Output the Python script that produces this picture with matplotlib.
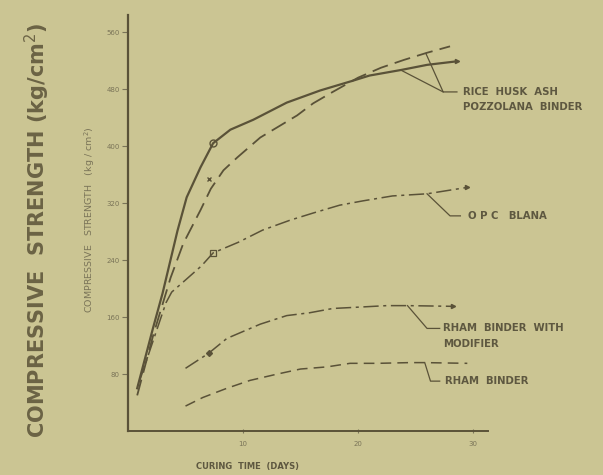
import matplotlib.pyplot as plt

# curing time (days) / compressive strength (kg/cm^2)
rha_solid_days = [0.8, 2.2, 3.0, 4.3, 5.1, 6.3, 7.4, 8.9, 10.9, 13.8, 16.7, 19.6, 21.0, 23.8, 26.0, 28.6]
rha_solid_str = [60, 146, 193, 281, 328, 370, 404, 423, 437, 461, 478, 492, 499, 507, 514, 519]
rha_dash_days = [0.8, 2.2, 3.7, 4.8, 6.3, 7.2, 8.3, 9.5, 11.5, 14.7, 16.1, 17.8, 20.0, 22.0, 24.0, 26.0, 28.0]
rha_dash_str = [50, 135, 215, 263, 310, 340, 366, 384, 412, 443, 460, 476, 496, 510, 521, 531, 540]
opc_days = [1.0, 3.3, 3.8, 5.0, 6.4, 7.4, 9.6, 11.7, 14.1, 16.1, 18.4, 20.4, 23.0, 26.0, 29.5]
opc_str = [70, 180, 195, 212, 232, 250, 265, 282, 296, 306, 317, 323, 330, 333, 342]
mod_days = [5.0, 7.0, 8.6, 11.5, 13.8, 15.8, 17.8, 20.2, 22.5, 24.3, 28.3]
mod_str = [88, 109, 130, 150, 162, 166, 172, 174, 176, 176, 175]
rham_days = [5.0, 6.5, 8.6, 10.6, 13.0, 15.0, 17.3, 19.3, 21.7, 24.5, 25.8, 29.5]
rham_str = [35, 47, 60, 71, 80, 87, 90, 95, 95, 96, 96, 95]

y_ticks = [80, 160, 240, 320, 400, 480, 560]
x_ticks = [10, 20, 30]

BG = '#cbc593'
INK = '#5a5238'
TXT = '#5e5840'

fig = plt.figure(figsize=(6.03, 4.75), dpi=100, facecolor=BG)
ax = fig.add_axes([128/603, 1 - 431/475, 360/603, 416/475])
ax.set_facecolor(BG)
ax.set_xlim(0, 31.3)
ax.set_ylim(0, 584)
for s in ['top', 'right']:
    ax.spines[s].set_visible(False)
ax.spines['left'].set_color(INK)
ax.spines['left'].set_linewidth(1.6)
ax.spines['bottom'].set_color(INK)
ax.spines['bottom'].set_linewidth(1.4)

ax.set_yticks(y_ticks)
ax.set_yticklabels([str(v) for v in y_ticks])
ax.set_xticks(x_ticks)
ax.set_xticklabels([str(v) for v in x_ticks])
ax.tick_params(axis='y', colors='#7a7458', labelsize=5, length=4, width=0.8, pad=2)
ax.tick_params(axis='x', colors='#7a7458', labelsize=5, length=3, width=0.8,
               direction='inout', pad=6)

# curves
ax.plot(rha_solid_days, rha_solid_str, color=INK, lw=1.6, solid_joinstyle='round')
ax.plot(rha_dash_days, rha_dash_str, color=INK, lw=1.3, ls=(0, (9, 4)))
ax.plot(opc_days, opc_str, color=INK, lw=1.1, ls=(0, (10, 3, 2, 3)))
ax.plot(mod_days, mod_str, color=INK, lw=1.1, ls=(0, (10, 3, 2, 3)))
ax.plot(rham_days, rham_str, color=INK, lw=1.1, ls=(0, (7, 4)))

# point markers on the curves
ax.plot(rha_solid_days[6], rha_solid_str[6], marker='o', ms=5, mfc='none', mec=INK, mew=1)
ax.plot(7.0, 354, marker='x', ms=3.5, color=INK, mew=1)
ax.plot(opc_days[5], opc_str[5], marker='s', ms=4, mfc='none', mec=INK, mew=0.9)
ax.plot(mod_days[1], mod_str[1], marker='D', ms=3, color=INK)
ax.plot(rha_solid_days[-1], rha_solid_str[-1], marker='>', ms=3, color=INK)
ax.plot(opc_days[-1], opc_str[-1], marker='>', ms=3, color=INK)
ax.plot(mod_days[-1], mod_str[-1], marker='>', ms=3, color=INK)

# leader lines and labels
lk = dict(color=INK, lw=0.9, clip_on=False)
ax.plot([25.9, 27.4, 28.6], [530, 476, 476], **lk)
ax.plot([23.8, 27.4], [506, 476], **lk)
ax.plot([26.0, 28.0, 28.9], [333, 302, 302], **lk)
ax.plot([24.3, 26.0, 27.1], [176, 144, 144], **lk)
ax.plot([25.8, 26.3, 27.1], [96, 70, 70], **lk)

tk = dict(color=TXT, fontsize=7.3, fontweight='bold', va='center', clip_on=False)
ax.text(29.1, 476, 'RICE  HUSK  ASH', **tk)
ax.text(29.1, 455, 'POZZOLANA  BINDER', **tk)
ax.text(29.6, 302, 'O P C   BLANA', **tk)
ax.text(27.4, 144, 'RHAM  BINDER  WITH', **tk)
ax.text(27.4, 122, 'MODIFIER', **tk)
ax.text(27.6, 70, 'RHAM  BINDER', **tk)

ax.text(0.19, -0.085, 'CURING  TIME  (DAYS)', transform=ax.transAxes,
        color=TXT, fontsize=6, fontweight='bold', va='center')

# axis titles
fig.text(90/603, 1 - 220/475, 'COMPRESSIVE   STRENGTH   (kg / cm$^2$)', rotation=90,
         color='#7a7458', fontsize=6.8, ha='center', va='center')
fig.text(37/603, 1 - 230/475, 'COMPRESSIVE  STRENGTH (kg/cm$^2$)', rotation=90,
         color='#6b6345', fontsize=15, fontweight='bold', ha='center', va='center')

fig.savefig('out.png', dpi=100, facecolor=BG)
